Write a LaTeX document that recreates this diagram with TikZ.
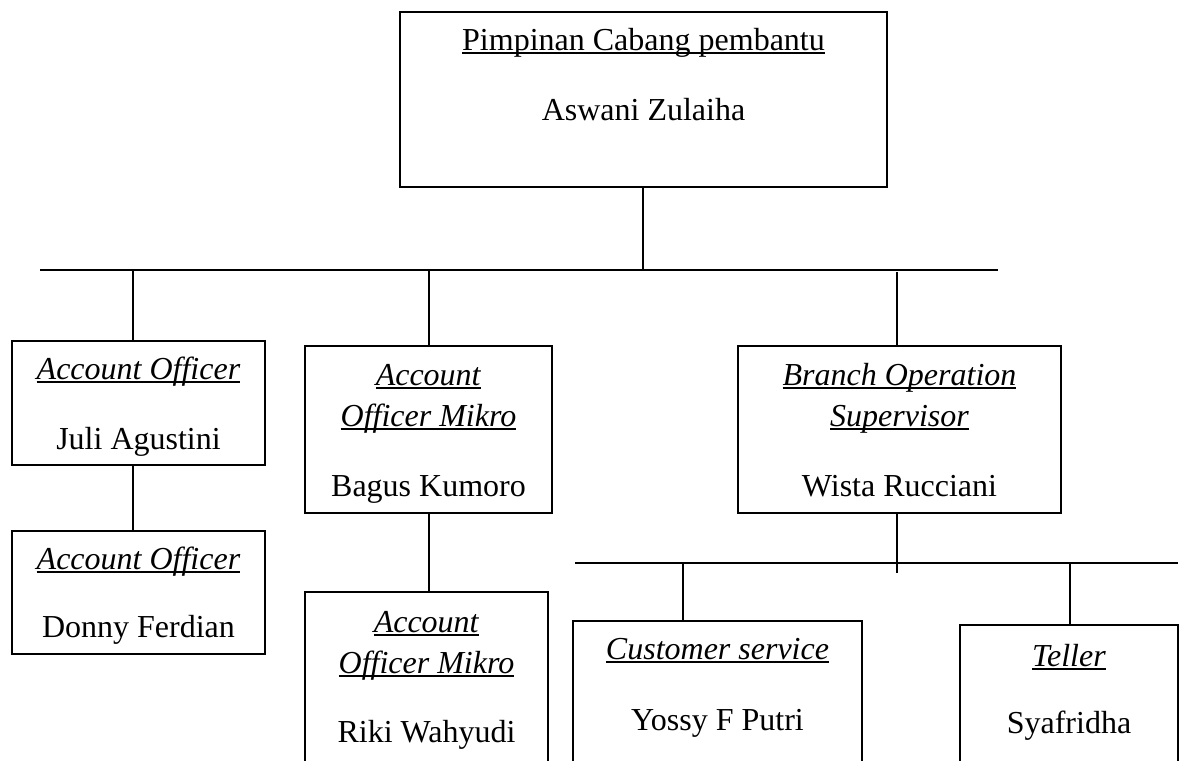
\documentclass[tikz,border=0pt]{standalone}
\usepackage{fontspec}
\setmainfont{Liberation Serif}
\usepackage{tikz}
\usetikzlibrary{positioning, fit}

\newcommand{\ulined}[1]{\setbox0\hbox{#1}\rlap{\rule[-1.6pt]{\wd0}{0.7pt}}\box0}

\begin{document}
\begin{tikzpicture}[x=0.375pt, y=-0.375pt, line width=0.7pt,
    box/.style={draw, inner sep=0pt},
    lbl/.style={anchor=base, inner sep=0pt, font=\fontsize{12pt}{14pt}\selectfont}]
    \clip (0,0) rectangle (1184,760);

    % Boxes
    \node[box, fit={(400,12) (887,187)}] (pc) {};
    \node[box, fit={(12,341) (265,465)}] (ao1) {};
    \node[box, fit={(12,531) (265,654)}] (ao2) {};
    \node[box, fit={(305,346) (552,513)}] (aom1) {};
    \node[box, fit={(305,592) (548,800)}] (aom2) {};
    \node[box, fit={(738,346) (1061,513)}] (bos) {};
    \node[box, fit={(573,621) (862,800)}] (cs) {};
    \node[box, fit={(960,625) (1178,800)}] (tel) {};

    % Texts
    \node[lbl] (pcT) at (643.5,50) {\ulined{Pimpinan Cabang pembantu}};
    \node[lbl] (pcN) at (643.5,120) {Aswani Zulaiha};

    \node[lbl] (ao1T) at (138.5,379) {\ulined{\textit{Account Officer}}};
    \node[lbl] (ao1N) at (138.5,449) {Juli Agustini};
    \node[lbl] (ao2T) at (138.5,569) {\ulined{\textit{Account Officer}}};
    \node[lbl] (ao2N) at (138.5,637) {Donny Ferdian};

    \node[lbl] (aom1T) at (428.5,385) {\ulined{\textit{Account}}};
    \node[lbl] (aom1U) at (428.5,426) {\ulined{\textit{Officer Mikro}}};
    \node[lbl] (aom1N) at (428.5,496) {Bagus Kumoro};
    \node[lbl] (aom2T) at (426.5,632) {\ulined{\textit{Account}}};
    \node[lbl] (aom2U) at (426.5,673) {\ulined{\textit{Officer Mikro}}};
    \node[lbl] (aom2N) at (426.5,742) {Riki Wahyudi};

    \node[lbl] (bosT) at (899.5,385) {\ulined{\textit{Branch Operation}}};
    \node[lbl] (bosU) at (899.5,426) {\ulined{\textit{Supervisor}}};
    \node[lbl] (bosN) at (899.5,496) {Wista Rucciani};

    \node[lbl] (csT) at (717.5,659) {\ulined{\textit{Customer service}}};
    \node[lbl] (csN) at (717.5,730) {Yossy F Putri};
    \node[lbl] (telT) at (1069,666) {\ulined{\textit{Teller}}};
    \node[lbl] (telN) at (1069,733) {Syafridha};

    % Main bus
    \coordinate (busL) at (40,270);
    \coordinate (busR) at (998,270);
    \coordinate (d0) at (643,270);
    \draw (busL) -- (busR);
    \draw (pc.south -| d0) -- (d0);
    \coordinate (d1) at (133,270);
    \coordinate (d2) at (429,270);
    \coordinate (d3) at (897,272);
    \draw (d1) -- (d1 |- ao1.north);
    \draw (d2) -- (d2 |- aom1.north);
    \draw (d3) -- (d3 |- bos.north);

    % Lower links
    \draw (ao1.south -| d1) -- (ao2.north -| d1);
    \draw (aom1.south -| d2) -- (aom2.north -| d2);

    % Second bus
    \coordinate (sbL) at (575,563);
    \coordinate (sbR) at (1178,563);
    \coordinate (sbE) at (897,573);
    \draw (sbL) -- (sbR);
    \draw (bos.south -| d3) -- (sbE);
    \coordinate (d4) at (683,563);
    \coordinate (d5) at (1070,563);
    \draw (d4) -- (d4 |- cs.north);
    \draw (d5) -- (d5 |- tel.north);
\end{tikzpicture}
\end{document}
